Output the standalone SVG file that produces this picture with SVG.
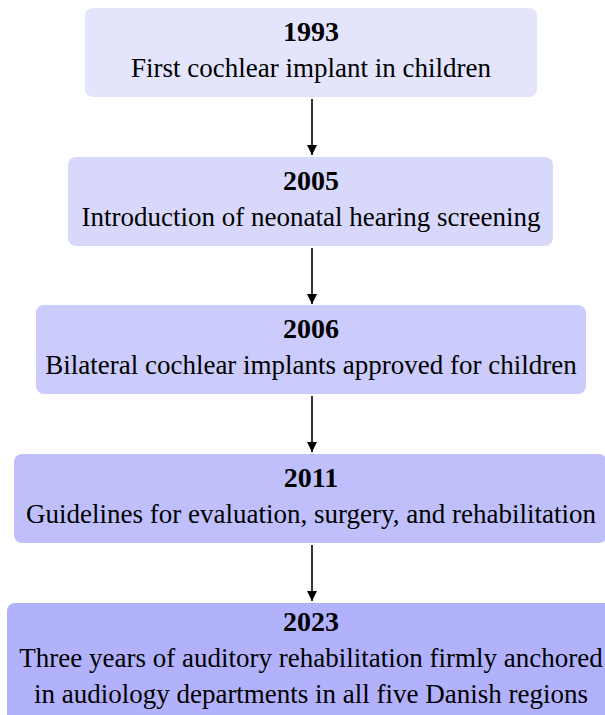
<svg xmlns="http://www.w3.org/2000/svg" width="605" height="715" viewBox="0 0 605 715">
<defs>
<marker id="ah" viewBox="0 0 10 10" refX="10" refY="5" markerWidth="10" markerHeight="10" markerUnits="userSpaceOnUse" orient="auto">
<path d="M0,0 L10,5 L0,10 Z" fill="#000"/>
</marker>
<style>
.box{stroke:none}
text{font-family:"Liberation Serif","Times New Roman",serif;font-size:27px;fill:#000;text-anchor:middle}
.yr{font-weight:bold;font-size:28px}
.con{stroke:#000;stroke-width:1.6;fill:none}
</style>
</defs>
<rect width="605" height="715" fill="#fff"/>
<g id="n1993"><rect class="box" x="85" y="8" width="452" height="89" rx="8" fill="#e4e4fc"/>
<text class="yr" x="311" y="41">1993</text><text x="311" y="77">First cochlear implant in children</text></g>
<g id="n2005"><rect class="box" x="68" y="157" width="485" height="89" rx="8" fill="#d8d8fc"/>
<text class="yr" x="311" y="190">2005</text><text x="311" y="226">Introduction of neonatal hearing screening</text></g>
<g id="n2006"><rect class="box" x="36" y="305" width="550" height="89" rx="8" fill="#cbcbfc"/>
<text class="yr" x="311" y="338">2006</text><text x="311" y="374">Bilateral cochlear implants approved for children</text></g>
<g id="n2011"><rect class="box" x="14" y="454" width="593" height="89" rx="8" fill="#bfbffc"/>
<text class="yr" x="311" y="487">2011</text><text x="311" y="523">Guidelines for evaluation, surgery, and rehabilitation</text></g>
<g id="n2023"><rect class="box" x="7" y="603" width="610" height="125" rx="8" fill="#b2b2fc"/>
<text class="yr" x="311" y="631">2023</text><text x="311" y="667">Three years of auditory rehabilitation firmly anchored</text><text x="311" y="703">in audiology departments in all five Danish regions</text></g>
<g id="connectors">
<line class="con" x1="312" y1="99" x2="312" y2="155" marker-end="url(#ah)"/>
<line class="con" x1="312" y1="248" x2="312" y2="304" marker-end="url(#ah)"/>
<line class="con" x1="312" y1="396" x2="312" y2="452" marker-end="url(#ah)"/>
<line class="con" x1="312" y1="545" x2="312" y2="601" marker-end="url(#ah)"/>
</g>
</svg>
